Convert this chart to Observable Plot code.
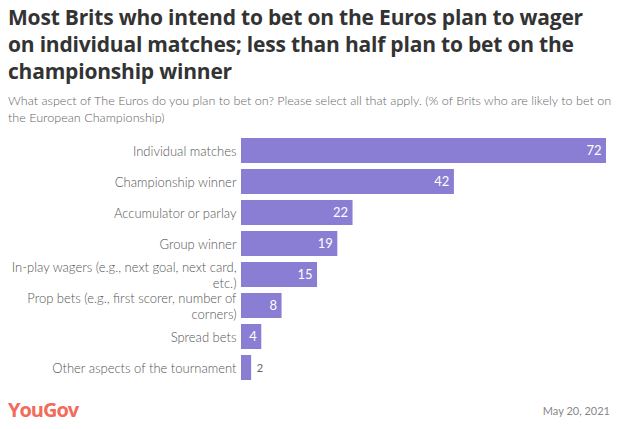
<!DOCTYPE html>
<html>
<head>
<meta charset="utf-8">
<script src="https://cdn.jsdelivr.net/npm/d3@7"></script>
<script src="https://cdn.jsdelivr.net/npm/@observablehq/plot@0.6"></script>
<style>
  html, body { margin: 0; padding: 0; background: #fff; }
  body { width: 621px; height: 429px; position: relative; overflow: hidden; font-family: Lato, "Open Sans", sans-serif; }
  #title { position: absolute; left: 8px; top: 4px; width: 594px; font-size: 21px; font-weight: 700; line-height: 27px; color: #333; font-family: "Open Sans", Lato, sans-serif; letter-spacing: -0.2px; }
  #subtitle { position: absolute; left: 8px; top: 92px; width: 610px; font-size: 12.6px; line-height: 17px; color: #666; font-weight: 300; }
  #chart { position: absolute; left: 0; top: 128px; }
  #logo { position: absolute; left: 8px; top: 396px; font-size: 20px; font-weight: 700; color: #f26b5b; letter-spacing: -1px; font-family: "Open Sans", sans-serif; }
  #date { position: absolute; right: 11px; top: 404px; font-size: 11px; color: #888; }
</style>
</head>
<body>
<div id="title">Most Brits who intend to bet on the Euros plan to wager on individual matches; less than half plan to bet on the championship winner</div>
<div id="subtitle">What aspect of The Euros do you plan to bet on? Please select all that apply. (% of Brits who are likely to bet on the European Championship)</div>
<div id="chart"></div>
<div id="logo">YouGov</div>
<div id="date">May 20, 2021</div>
<script>
const categories = [
  "Individual matches",
  "Championship winner",
  "Accumulator or parlay",
  "Group winner",
  "In-play wagers (e.g., next goal, next card,\netc.)",
  "Prop bets (e.g., first scorer, number of\ncorners)",
  "Spread bets",
  "Other aspects of the tournament"
];
const values = [72, 42, 22, 19, 15, 8, 4, 2];

const data = categories.map((c, i) => ({category: c, value: values[i]}));

const chart = Plot.plot({
  width: 621,
  height: 262,
  marginLeft: 241,
  marginRight: 15,
  marginTop: 2,
  marginBottom: 3,
  style: {fontFamily: "Lato, 'Open Sans', sans-serif", fontSize: "13px", background: "transparent"},
  x: {domain: [0, 72], axis: null},
  y: {domain: categories, padding: 0.2, label: null},
  marks: [
    Plot.barX(data, {x: "value", y: "category", fill: "#897ed3"}),
    Plot.axisY({tickSize: 0, tickPadding: 5, fontSize: 13, fill: "#555", fontWeight: 300, lineHeight: 1.2}),
    Plot.text(data.filter(d => d.value >= 3), {x: "value", y: "category", text: d => String(d.value), textAnchor: "end", dx: -5, fill: "white", fontSize: 13}),
    Plot.text(data.filter(d => d.value < 3), {x: "value", y: "category", text: d => String(d.value), textAnchor: "start", dx: 5, fill: "#666", fontSize: 11})
  ]
});
document.getElementById("chart").appendChild(chart);
</script>
</body>
</html>
